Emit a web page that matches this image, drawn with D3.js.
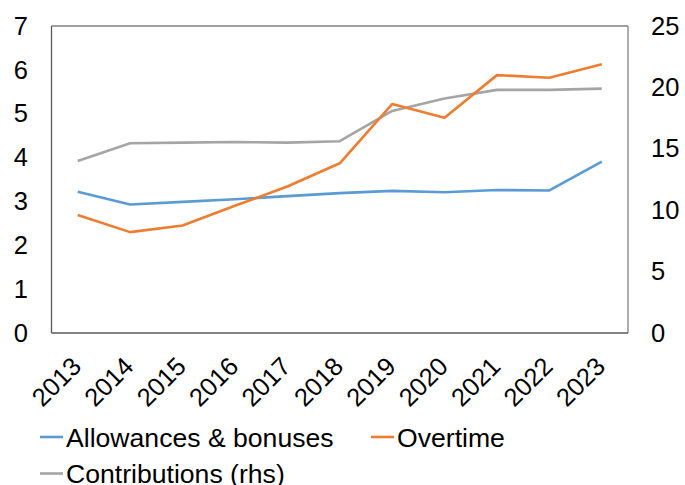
<!DOCTYPE html>
<html>
<head>
<meta charset="utf-8">
<script src="https://cdn.jsdelivr.net/npm/d3@7"></script>
<style>
  html, body { margin: 0; padding: 0; background: #fff; }
  svg { display: block; font-family: "Liberation Sans", Arial, sans-serif; }
</style>
</head>
<body>
<svg id="chart" width="685" height="485"></svg>
<script>
// Years on the x axis
const years = ["2013","2014","2015","2016","2017","2018","2019","2020","2021","2022","2023"];
// Left-hand series
const allowances = [3.22, 2.93, 2.99, 3.05, 3.12, 3.19, 3.24, 3.21, 3.26, 3.25, 3.91];
const overtime   = [2.69, 2.30, 2.45, 2.90, 3.34, 3.87, 5.22, 4.91, 5.88, 5.82, 6.13];
// Right-hand series
const contributions = [14.0, 15.45, 15.5, 15.55, 15.5, 15.62, 18.08, 19.1, 19.8, 19.8, 19.9];
// Axis ticks
const leftTicks  = [0, 1, 2, 3, 4, 5, 6, 7];
const rightTicks = [0, 5, 10, 15, 20, 25];

const svg = d3.select("#chart");
const box = { left: 51.5, right: 628, top: 26, bottom: 333 };
const tickFont = 25.5;

const x = d3.scaleBand().domain(years).range([box.left, box.right]);
const xc = d => x(d) + x.bandwidth() / 2;
const yL = d3.scaleLinear().domain([0, 7]).range([box.bottom, box.top]);
const yR = d3.scaleLinear().domain([0, 25]).range([box.bottom, box.top]);

// Plot frame
svg.append("line").attr("x1", box.left).attr("x2", box.right).attr("y1", box.top).attr("y2", box.top)
  .attr("stroke", "#808080").attr("stroke-width", 1.3);
svg.append("line").attr("x1", box.right).attr("x2", box.right).attr("y1", box.top).attr("y2", box.bottom)
  .attr("stroke", "#808080").attr("stroke-width", 1.3);
svg.append("line").attr("x1", box.left).attr("x2", box.left).attr("y1", box.top).attr("y2", box.bottom)
  .attr("stroke", "#595959").attr("stroke-width", 1.3);
svg.append("line").attr("x1", box.left).attr("x2", box.right).attr("y1", box.bottom).attr("y2", box.bottom)
  .attr("stroke", "#595959").attr("stroke-width", 1.3);

// Left axis labels
const axL = d3.axisLeft(yL).tickValues(leftTicks).tickSize(0).tickPadding(0).tickFormat(d3.format("d"));
svg.append("g").attr("transform", "translate(28,0)").call(axL)
  .call(g => g.select(".domain").remove())
  .selectAll("text").attr("font-size", tickFont).attr("fill", "#000").attr("font-family", "Liberation Sans, Arial, sans-serif");

// Right axis labels
const axR = d3.axisRight(yR).tickValues(rightTicks).tickSize(0).tickPadding(0).tickFormat(d3.format("d"));
svg.append("g").attr("transform", "translate(651,0)").call(axR)
  .call(g => g.select(".domain").remove())
  .selectAll("text").attr("font-size", tickFont).attr("fill", "#000").attr("font-family", "Liberation Sans, Arial, sans-serif");

// Rotated year labels
const axB = d3.axisBottom(x).tickSize(0).tickPadding(0);
const gB = svg.append("g").attr("transform", `translate(0,${box.bottom})`).call(axB);
gB.select(".domain").remove();
gB.selectAll("text")
  .attr("font-size", tickFont).attr("fill", "#000").attr("font-family", "Liberation Sans, Arial, sans-serif")
  .attr("text-anchor", "end").attr("dy", null).attr("y", 0)
  .attr("transform", "translate(5,35) rotate(-45)");

// Series lines
const lineL = d3.line().x((d, i) => xc(years[i])).y(d => yL(d));
const lineR = d3.line().x((d, i) => xc(years[i])).y(d => yR(d));

svg.append("path").datum(contributions).attr("d", lineR)
  .attr("fill", "none").attr("stroke", "#A5A5A5").attr("stroke-width", 2.6).attr("stroke-linejoin", "round");
svg.append("path").datum(allowances).attr("d", lineL)
  .attr("fill", "none").attr("stroke", "#5B9BD5").attr("stroke-width", 2.6).attr("stroke-linejoin", "round");
svg.append("path").datum(overtime).attr("d", lineL)
  .attr("fill", "none").attr("stroke", "#ED7D31").attr("stroke-width", 2.6).attr("stroke-linejoin", "round");

// Legend
const legend = [
  { name: "Allowances & bonuses", color: "#5B9BD5", lx: 40, ly: 437 },
  { name: "Overtime", color: "#ED7D31", lx: 371, ly: 437 },
  { name: "Contributions (rhs)", color: "#A5A5A5", lx: 40, ly: 473.5 }
];
const lg = svg.append("g").selectAll("g").data(legend).join("g")
  .attr("transform", d => `translate(${d.lx},${d.ly})`);
lg.append("line").attr("x1", 0).attr("x2", 23).attr("y1", 0).attr("y2", 0)
  .attr("stroke", d => d.color).attr("stroke-width", 2.6);
lg.append("text").attr("x", 26).attr("y", 9.5).attr("font-size", 26.6).attr("fill", "#000")
  .text(d => d.name);
</script>
</body>
</html>
